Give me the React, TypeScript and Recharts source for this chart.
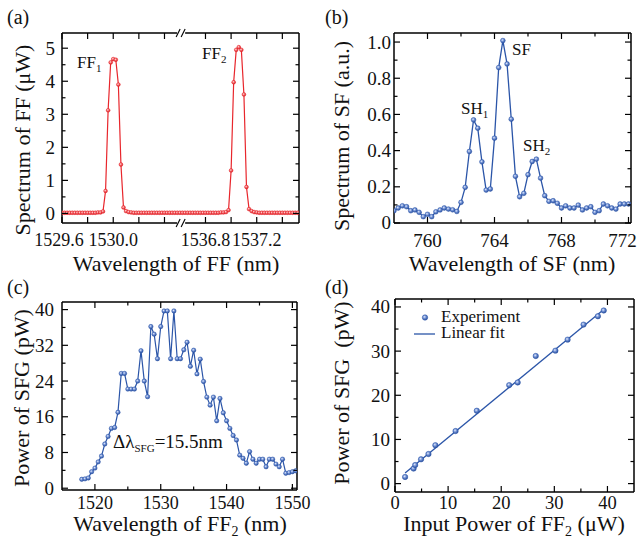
import React from 'react';
import { LineChart, ComposedChart, Line, Scatter, XAxis, YAxis, Legend } from 'recharts';

const FONT = '"Liberation Serif", "Times New Roman", Times, serif';
const RED = '#e8262c';
const BLUE = '#2b55a8';
const INK = '#111';

// (a) spectra of the two fundamental beams, drawn on a broken wavelength axis
const ff1Wavelength = [
  1529.6, 1529.62, 1529.64, 1529.66, 1529.68, 1529.7, 1529.72, 1529.74, 1529.76, 1529.78,
  1529.8, 1529.82, 1529.84, 1529.86, 1529.88, 1529.9, 1529.92, 1529.94, 1529.96, 1529.98,
  1530.0, 1530.02, 1530.04, 1530.06, 1530.08, 1530.1, 1530.12, 1530.14, 1530.16, 1530.18,
  1530.2, 1530.22, 1530.24, 1530.26, 1530.28, 1530.3, 1530.32, 1530.34, 1530.36, 1530.38,
  1530.4, 1530.42, 1530.44, 1530.46, 1530.48, 1530.5, 1530.52,
];
const ff1Power = [
  0.02, 0.02, 0.02, 0.02, 0.02, 0.02, 0.02, 0.02, 0.02, 0.02,
  0.02, 0.02, 0.02, 0.02, 0.03, 0.03, 0.06, 0.68, 3.12, 4.57,
  4.67, 4.65, 3.9, 1.48, 0.18, 0.07, 0.04, 0.03, 0.02, 0.02,
  0.02, 0.02, 0.02, 0.02, 0.02, 0.02, 0.02, 0.02, 0.02, 0.02,
  0.02, 0.02, 0.02, 0.02, 0.02, 0.02, 0.02,
];
const ff2Wavelength = [
  1536.62, 1536.64, 1536.66, 1536.68, 1536.7, 1536.72, 1536.74, 1536.76, 1536.78, 1536.8,
  1536.82, 1536.84, 1536.86, 1536.88, 1536.9, 1536.92, 1536.94, 1536.96, 1536.98, 1537.0,
  1537.02, 1537.04, 1537.06, 1537.08, 1537.1, 1537.12, 1537.14, 1537.16, 1537.18, 1537.2,
  1537.22, 1537.24, 1537.26, 1537.28, 1537.3, 1537.32, 1537.34, 1537.36, 1537.38, 1537.4,
  1537.42, 1537.44, 1537.46, 1537.48, 1537.5, 1537.52,
];
const ff2Power = [
  0.02, 0.02, 0.02, 0.02, 0.02, 0.02, 0.02, 0.02, 0.02, 0.02,
  0.02, 0.02, 0.02, 0.02, 0.02, 0.03, 0.03, 0.04, 0.1, 1.3,
  3.97, 4.95, 5.03, 4.95, 3.6, 0.8, 0.13, 0.07, 0.04, 0.03,
  0.02, 0.02, 0.02, 0.02, 0.02, 0.02, 0.02, 0.02, 0.02, 0.02,
  0.02, 0.02, 0.02, 0.02, 0.02, 0.02,
];
const ffTicksLeft = [1529.6, 1529.8, 1530.0, 1530.2, 1530.4];
const ffTicksRight = [1536.8, 1537.0, 1537.2, 1537.4];
const ffTickLabels = ['1529.6', '1530.0', '1536.8', '1537.2'];
const ffGap = 6.08; // nm removed from the axis between the two parts
const ffBreak = 1530.53;

// (b) sum-frequency spectrum
const sfWavelength = [
  758, 758.25, 758.5, 758.75, 759, 759.25, 759.5, 759.75, 760, 760.25,
  760.5, 760.75, 761, 761.25, 761.5, 761.75, 762, 762.25, 762.5, 762.75,
  763, 763.25, 763.5, 763.75, 764, 764.25, 764.5, 764.75, 765, 765.25,
  765.5, 765.75, 766, 766.25, 766.5, 766.75, 767, 767.25, 767.5, 767.75,
  768, 768.25, 768.5, 768.75, 769, 769.25, 769.5, 769.75, 770, 770.25,
  770.5, 770.75, 771, 771.25, 771.5, 771.75, 772,
];
const sfSpectrum = [
  0.068, 0.083, 0.095, 0.09, 0.068, 0.072, 0.059, 0.035, 0.048, 0.035,
  0.062, 0.072, 0.083, 0.077, 0.073, 0.064, 0.114, 0.197, 0.395, 0.57,
  0.524, 0.338, 0.182, 0.188, 0.469, 0.859, 1.008, 0.879, 0.574, 0.258,
  0.145, 0.164, 0.267, 0.34, 0.353, 0.248, 0.151, 0.12, 0.123, 0.109,
  0.083, 0.095, 0.083, 0.083, 0.099, 0.072, 0.083, 0.09, 0.059, 0.068,
  0.105, 0.095, 0.083, 0.077, 0.105, 0.105, 0.105,
];

// (c) SFG power while tuning FF2
const ff2Scan = [
  1518, 1518.5, 1519, 1519.5, 1520, 1520.5, 1521, 1521.5, 1522, 1522.5,
  1523, 1523.5, 1524, 1524.5, 1525, 1525.5, 1526, 1526.5, 1527, 1527.5,
  1528, 1528.5, 1529, 1529.5, 1530, 1530.5, 1531, 1531.5, 1532, 1532.5,
  1533, 1533.5, 1534, 1534.5, 1535, 1535.5, 1536, 1536.5, 1537, 1537.5,
  1538, 1538.5, 1539, 1539.5, 1540, 1540.5, 1541, 1541.5, 1542, 1542.5,
  1543, 1543.5, 1544, 1544.5, 1545, 1545.5, 1546, 1546.5, 1547, 1547.5,
  1548, 1548.5, 1549, 1549.5, 1550, 1550.5,
];
const sfgPower = [
  2.0, 2.1, 2.3, 3.7, 4.5, 5.9, 7.2, 9.9, 11.6, 13.4,
  13.6, 17.0, 25.7, 25.7, 22.2, 22.2, 22.2, 24.0, 30.8, 24.0,
  20.5, 36.2, 34.5, 29.0, 36.2, 39.7, 39.7, 29.0, 39.7, 29.0,
  29.0, 31.0, 32.7, 27.3, 30.9, 25.6, 28.9, 23.9, 20.4, 18.6,
  20.4, 15.1, 20.1, 16.9, 15.1, 13.4, 11.8, 10.8, 7.4, 6.7,
  5.6, 8.2, 6.5, 5.6, 6.5, 6.5, 4.8, 6.5, 6.5, 5.4,
  4.8, 6.5, 3.35, 3.5, 3.7, 3.9,
];

// (d) SFG power vs FF2 input power
const inputPower = [1.9, 3.5, 3.8, 4.9, 6.3, 7.6, 11.4, 15.4, 21.5, 23.1, 26.5, 30.2, 32.5, 35.5, 38.2, 39.3];
const sfgOut = [1.5, 3.4, 4.2, 5.5, 6.7, 8.7, 11.9, 16.5, 22.3, 22.9, 28.9, 30.1, 32.6, 36.0, 37.9, 39.2];
const fitInput = [1.9, 39.3];
const fitOutput = [2.4, 39.4];

const ffLeft = ff1Wavelength.map((w, i) => ({ x: w, y: ff1Power[i] }));
const ffRight = ff2Wavelength.map((w, i) => ({ x: w - ffGap, y: ff2Power[i] }));
const sfData = sfWavelength.map((w, i) => ({ x: w, y: sfSpectrum[i] }));
const scanData = ff2Scan.map((w, i) => ({ x: w, y: sfgPower[i] }));
const expData = inputPower.map((p, i) => ({ x: p, y: sfgOut[i] }));
const fitData = fitInput.map((p, i) => ({ x: p, y: fitOutput[i] }));

type Side = 'bottom' | 'top' | 'left' | 'right';
type Rect = { L: number; T: number; R: number; B: number };
type Box = { x: number; y: number; w: number; h: number };

const near = (a: number, b: number) => Math.abs(a - b) < 1e-6;

function makeTick(side: Side, isMajor: (v: number) => boolean, label: (v: number) => string | null, gap: number, fs: number,
  breakAt?: number, dxOf?: (v: number) => number) {
  return (p: any) => {
    const v: number = p.payload.value;
    const x: number = p.x;
    const y: number = p.y;
    if (breakAt !== undefined && near(v, breakAt)) {
      return (
        <g>
          <line x1={x - 4} x2={x + 4} y1={y} y2={y} stroke="#fff" strokeWidth={3} />
          <line x1={x - 5} y1={y + 4} x2={x - 1} y2={y - 4} stroke="#000" strokeWidth={1.1} />
          <line x1={x} y1={y + 4} x2={x + 4} y2={y - 4} stroke="#000" strokeWidth={1.1} />
        </g>
      );
    }
    const major = isMajor(v);
    const len = major ? 6 : 3.5;
    const txt = major && (side === 'bottom' || side === 'left') ? label(v) : null;
    const dx = dxOf ? dxOf(v) : 0;
    let c = [x, y, x, y - len];
    if (side === 'top') c = [x, y, x, y + len];
    if (side === 'left') c = [x, y, x + len, y];
    if (side === 'right') c = [x, y, x - len, y];
    return (
      <g>
        <line x1={c[0]} y1={c[1]} x2={c[2]} y2={c[3]} stroke="#000" strokeWidth={1.2} />
        {txt !== null && side === 'bottom' && (
          <text x={x + dx} y={y + gap} textAnchor="middle" fontSize={fs} fontFamily={FONT} fill={INK}>{txt}</text>
        )}
        {txt !== null && side === 'left' && (
          <text x={x - gap} y={y} dy="0.34em" textAnchor="end" fontSize={fs} fontFamily={FONT} fill={INK}>{txt}</text>
        )}
      </g>
    );
  };
}

type FrameCfg = {
  xDomain: [number, number];
  yDomain: [number, number];
  xTicks: number[];
  yTicks: number[];
  xMajor: (v: number) => boolean;
  yMajor: (v: number) => boolean;
  xLabel: (v: number) => string | null;
  yLabel: (v: number) => string | null;
  xGap: number;
  yGap: number;
  xFs: number;
  yFs: number;
  breakAt?: number;
  xDx?: (v: number) => number;
};

function frameAxes(c: FrameCfg) {
  const common = {
    tickLine: false,
    tickSize: 0,
    tickMargin: 0,
    interval: 0 as const,
    allowDataOverflow: true,
    axisLine: { stroke: '#000', strokeWidth: 1.5 },
  };
  return [
    <XAxis key="xb" xAxisId="b" orientation="bottom" type="number" dataKey="x" height={1} domain={c.xDomain} ticks={c.xTicks}
      tick={makeTick('bottom', c.xMajor, c.xLabel, c.xGap, c.xFs, c.breakAt, c.xDx)} {...common} />,
    <XAxis key="xt" xAxisId="t" orientation="top" type="number" dataKey="x" height={1} domain={c.xDomain} ticks={c.xTicks}
      tick={makeTick('top', c.xMajor, c.xLabel, c.xGap, c.xFs, c.breakAt)} {...common} />,
    <YAxis key="yl" yAxisId="l" orientation="left" type="number" dataKey="y" width={1} domain={c.yDomain} ticks={c.yTicks}
      tick={makeTick('left', c.yMajor, c.yLabel, c.yGap, c.yFs)} {...common} />,
    <YAxis key="yr" yAxisId="r" orientation="right" type="number" dataKey="y" width={1} domain={c.yDomain} ticks={c.yTicks}
      tick={makeTick('right', c.yMajor, c.yLabel, c.yGap, c.yFs)} {...common} />,
  ];
}

function marginFor(plot: Rect, box: Box) {
  return {
    left: plot.L - box.x - 1,
    top: plot.T - box.y - 1,
    right: box.x + box.w - plot.R - 1,
    bottom: box.y + box.h - plot.B - 1,
  };
}

function ball(grad: string, color: string, r: number) {
  return (p: any) => {
    if (p.cx == null || p.cy == null) return <g key={`d${p.index}`} />;
    return <circle key={`d${p.index}`} cx={p.cx} cy={p.cy} r={r} fill={`url(#${grad})`} stroke={color} strokeWidth={0.5} />;
  };
}

const boxA: Box = { x: 0, y: 0, w: 318, h: 270 };
const boxB: Box = { x: 318, y: 0, w: 319, h: 270 };
const boxC: Box = { x: 0, y: 270, w: 318, h: 270 };
const boxD: Box = { x: 318, y: 270, w: 319, h: 270 };
const plotA: Rect = { L: 62, T: 33, R: 299, B: 223 };
const plotB: Rect = { L: 394, T: 33, R: 631, B: 223 };
const plotC: Rect = { L: 62, T: 302, R: 297, B: 490 };
const plotD: Rect = { L: 395, T: 299, R: 634, B: 492 };

const pos = (b: Box): React.CSSProperties => ({ position: 'absolute', left: b.x, top: b.y });

function PanelA() {
  const ticks = [...ffTicksLeft, ffBreak, ...ffTicksRight.map((w) => w - ffGap)];
  const cfg: FrameCfg = {
    xDomain: [1529.6, 1531.45],
    yDomain: [-0.29, 5.46],
    xTicks: ticks,
    yTicks: [0, 0.5, 1, 1.5, 2, 2.5, 3, 3.5, 4, 4.5, 5],
    xMajor: () => true,
    yMajor: (v) => near(v, Math.round(v)),
    xLabel: (v) => {
      const s = (v > ffBreak ? v + ffGap : v).toFixed(1);
      return ffTickLabels.includes(s) ? s : null;
    },
    yLabel: (v) => String(v),
    xGap: 23,
    yGap: 7,
    xFs: 18,
    yFs: 19,
    breakAt: ffBreak,
    xDx: (v) => (near(v, 1529.6) ? -3 : 0),
  };
  return (
    <div style={pos(boxA)}>
      <LineChart width={boxA.w} height={boxA.h} margin={marginFor(plotA, boxA)}>
        {frameAxes(cfg)}
        <Line data={ffLeft} xAxisId="b" yAxisId="l" dataKey="y" type="linear" stroke={RED} strokeWidth={1.2}
          dot={ball('ballRed', RED, 1.9)} isAnimationActive={false} />
        <Line data={ffRight} xAxisId="b" yAxisId="l" dataKey="y" type="linear" stroke={RED} strokeWidth={1.2}
          dot={ball('ballRed', RED, 1.9)} isAnimationActive={false} />
      </LineChart>
    </div>
  );
}

function PanelB() {
  const cfg: FrameCfg = {
    xDomain: [758, 772.15],
    yDomain: [0, 1.05],
    xTicks: [760, 762, 764, 766, 768, 770, 772],
    yTicks: [0, 0.1, 0.2, 0.3, 0.4, 0.5, 0.6, 0.7, 0.8, 0.9, 1.0],
    xMajor: (v) => v % 4 === 0,
    yMajor: (v) => near(v * 5, Math.round(v * 5)),
    xLabel: (v) => String(v),
    yLabel: (v) => (v === 0 ? '0' : v.toFixed(1)),
    xGap: 24,
    yGap: 3,
    xFs: 19,
    yFs: 19,
    xDx: (v) => (v === 772 ? -6 : 0),
  };
  return (
    <div style={pos(boxB)}>
      <LineChart width={boxB.w} height={boxB.h} margin={marginFor(plotB, boxB)}>
        {frameAxes(cfg)}
        <Line data={sfData} xAxisId="b" yAxisId="l" dataKey="y" type="linear" stroke={BLUE} strokeWidth={1.3}
          dot={ball('ballBlue', BLUE, 2.4)} isAnimationActive={false} />
      </LineChart>
    </div>
  );
}

function PanelC() {
  const cfg: FrameCfg = {
    xDomain: [1515, 1550.7],
    yDomain: [-0.4, 41.7],
    xTicks: [1520, 1525, 1530, 1535, 1540, 1545, 1550],
    yTicks: [0, 4, 8, 12, 16, 20, 24, 28, 32, 36, 40],
    xMajor: (v) => v % 10 === 0,
    yMajor: (v) => v % 8 === 0,
    xLabel: (v) => String(v),
    yLabel: (v) => String(v),
    xGap: 18.5,
    yGap: 8,
    xFs: 18,
    yFs: 19,
  };
  return (
    <div style={pos(boxC)}>
      <LineChart width={boxC.w} height={boxC.h} margin={marginFor(plotC, boxC)}>
        {frameAxes(cfg)}
        <Line data={scanData} xAxisId="b" yAxisId="l" dataKey="y" type="linear" stroke={BLUE} strokeWidth={1.2}
          dot={ball('ballBlue', BLUE, 2.2)} isAnimationActive={false} />
      </LineChart>
    </div>
  );
}

function LegendD() {
  return (
    <svg width={150} height={42}>
      <circle cx={15} cy={11.5} r={2.7} fill="url(#ballBlue)" stroke={BLUE} strokeWidth={0.5} />
      <line x1={4} x2={25} y1={28} y2={28} stroke={BLUE} strokeWidth={1.3} />
      <text x={31} y={16} fontSize={17} fontFamily={FONT} fill={INK}>Experiment</text>
      <text x={31} y={32} fontSize={17} fontFamily={FONT} fill={INK}>Linear fit</text>
    </svg>
  );
}

function PanelD() {
  const cfg: FrameCfg = {
    xDomain: [0, 45],
    yDomain: [-1.9, 41.8],
    xTicks: [0, 5, 10, 15, 20, 25, 30, 35, 40],
    yTicks: [0, 5, 10, 15, 20, 25, 30, 35, 40],
    xMajor: (v) => v % 10 === 0,
    yMajor: (v) => v % 10 === 0,
    xLabel: (v) => String(v),
    yLabel: (v) => String(v),
    xGap: 16.5,
    yGap: 5,
    xFs: 18.5,
    yFs: 19,
  };
  return (
    <div style={pos(boxD)}>
      <ComposedChart width={boxD.w} height={boxD.h} margin={marginFor(plotD, boxD)}>
        {frameAxes(cfg)}
        <Line data={fitData} xAxisId="b" yAxisId="l" dataKey="y" type="linear" stroke={BLUE} strokeWidth={1.3}
          dot={false} isAnimationActive={false} />
        <Scatter data={expData} xAxisId="b" yAxisId="l" dataKey="y" fill={BLUE} isAnimationActive={false}
          shape={(p: any) => <circle cx={p.cx} cy={p.cy} r={2.7} fill="url(#ballBlue)" stroke={BLUE} strokeWidth={0.5} />} />
        <Legend layout="vertical" align="center" verticalAlign="middle" content={() => <LegendD />}
          wrapperStyle={{ left: 92, top: 36, width: 150, height: 42 }} />
      </ComposedChart>
    </div>
  );
}

function Sub({ children, size, shift }: { children: React.ReactNode; size: number; shift: number }) {
  return <tspan fontSize={size} dy={shift}>{children}</tspan>;
}

function Texts() {
  const t = { fontFamily: FONT, fill: INK };
  const title = { ...t, fontSize: 22 };
  return (
    <svg width={637} height={540} style={{ position: 'absolute', left: 0, top: 0, pointerEvents: 'none' }}>
      <text x={7} y={24} fontSize={20} {...t}>(a)</text>
      <text x={325} y={24} fontSize={20} {...t}>(b)</text>
      <text x={7} y={294} fontSize={20} {...t}>(c)</text>
      <text x={325} y={294} fontSize={20} {...t}>(d)</text>

      <text x={77} y={68} fontSize={17} {...t}>FF<Sub size={11} shift={3.5}>1</Sub></text>
      <text x={202} y={59} fontSize={17} {...t}>FF<Sub size={11} shift={3.5}>2</Sub></text>
      <text x={512} y={55} fontSize={17} {...t}>SF</text>
      <text x={461} y={114} fontSize={17} {...t}>SH<Sub size={11} shift={3.5}>1</Sub></text>
      <text x={523} y={151} fontSize={17} {...t}>SH<Sub size={11} shift={3.5}>2</Sub></text>
      <text x={113} y={448} fontSize={19} {...t}>
        Δλ<Sub size={11} shift={4}>SFG</Sub><tspan dy={-4}>=15.5nm</tspan>
      </text>

      <text x={176} y={271} textAnchor="middle" {...title}>Wavelength of FF (nm)</text>
      <text x={512} y={271} textAnchor="middle" {...title}>Wavelength of SF (nm)</text>
      <text x={180} y={531} textAnchor="middle" {...title}>
        Wavelength of FF<Sub size={14} shift={5}>2</Sub><tspan dy={-5}> (nm)</tspan>
      </text>
      <text x={514} y={531} textAnchor="middle" {...title}>
        Input Power of FF<Sub size={14} shift={5}>2</Sub><tspan dy={-5}> (μW)</tspan>
      </text>

      <text transform="translate(22,140) rotate(-90)" textAnchor="middle" dy="0.35em" {...title}>Spectrum of FF (μW)</text>
      <text transform="translate(341,136) rotate(-90)" textAnchor="middle" dy="0.35em" {...title}>Spectrum of SF (a.u.)</text>
      <text transform="translate(21,398) rotate(-90)" textAnchor="middle" dy="0.35em" {...title}>Power of SFG (pW)</text>
      <text transform="translate(341,393) rotate(-90)" textAnchor="middle" dy="0.35em" style={{ whiteSpace: 'pre' }} {...title}>Power of SFG  (pW)</text>
    </svg>
  );
}

export default function App() {
  return (
    <div style={{ position: 'fixed', left: 0, top: 0, width: 637, height: 540, background: '#fff', overflow: 'hidden' }}>
      <svg width={0} height={0} style={{ position: 'absolute' }}>
        <defs>
          <radialGradient id="ballRed" cx="0.4" cy="0.38" r="0.65">
            <stop offset="0" stopColor="#ffe0e0" />
            <stop offset="0.45" stopColor="#f2666a" />
            <stop offset="1" stopColor="#d41c22" />
          </radialGradient>
          <radialGradient id="ballBlue" cx="0.4" cy="0.38" r="0.65">
            <stop offset="0" stopColor="#e2eafb" />
            <stop offset="0.45" stopColor="#6f8fd3" />
            <stop offset="1" stopColor="#244a98" />
          </radialGradient>
        </defs>
      </svg>
      <PanelA />
      <PanelB />
      <PanelC />
      <PanelD />
      <Texts />
    </div>
  );
}
